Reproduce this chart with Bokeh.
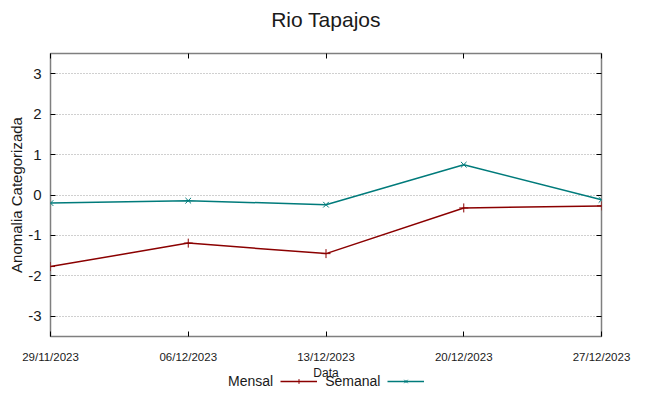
import pandas as pd
from bokeh.plotting import figure
from bokeh.layouts import column
from bokeh.models import (Range1d, LinearAxis, FixedTicker, Legend, LegendItem, Grid, Label)
from bokeh.embed import file_html
from bokeh.resources import INLINE

# ---- data ----
dates = ["29/11/2023", "06/12/2023", "13/12/2023", "20/12/2023", "27/12/2023"]
mensal = [-1.77, -1.19, -1.45, -0.32, -0.27]
semanal = [-0.20, -0.14, -0.24, 0.75, -0.12]
y_ticks = [-3, -2, -1, 0, 1, 2, 3]
y_tick_labels = ["-3", "-2", "-1", "0", "1", "2", "3"]
title_text = "Rio Tapajos"
x_label = "Data"
y_label = "Anomalia Categorizada"
series_names = ["Mensal", "Semanal"]

x_ms = [int(v) // 10**6 for v in pd.to_datetime(dates, format="%d/%m/%Y").astype("int64")]

RED = "#8b0000"
TEAL = "#007b7b"
SANS = "Liberation Sans"
TXT = "#1a1a1a"
W = 649

def strip(h):
    f = figure(width=W, height=h, output_backend="svg", toolbar_location=None,
               x_axis_location=None, y_axis_location=None,
               x_range=Range1d(0, 1), y_range=Range1d(0, h),
               min_border_left=50, min_border_right=48, min_border_top=0, min_border_bottom=0)
    f.outline_line_color = None
    f.xgrid.visible = False
    f.ygrid.visible = False
    return f

# ---- title strip ----
TH = 36
pt = strip(TH)
pt.add_layout(Label(x=0.5, y=TH - 19, text=title_text, text_align="center",
                    text_baseline="middle", text_font=SANS, text_font_size="21px",
                    text_color=TXT))

# ---- main plot ----
MH = 331
x0, x1 = x_ms[0], x_ms[-1]
p = figure(width=W, height=MH, output_backend="svg", toolbar_location=None,
           x_axis_location=None, y_axis_location=None,
           x_range=Range1d(x0, x1), y_range=Range1d(-3.5, 3.5),
           min_border_left=50, min_border_right=48, min_border_top=17, min_border_bottom=31)
p.background_fill_color = "white"
p.border_fill_color = "white"
p.outline_line_color = "#7f7f7f"
p.outline_line_width = 1.5

def tick_only(ax):
    # mirrored tick marks only: labels are not painted
    ax.axis_line_color = None
    ax.major_tick_in = 5
    ax.major_tick_out = 0
    ax.major_tick_line_color = "black"
    ax.minor_tick_line_color = None
    ax.major_label_text_color = None
    ax.major_label_text_font_size = "1px"
    ax.major_label_standoff = 0

yl = LinearAxis(ticker=FixedTicker(ticks=y_ticks),
                major_label_overrides={t: s for t, s in zip(y_ticks, y_tick_labels)})
yl.axis_line_color = None
yl.major_tick_in = 5
yl.major_tick_out = 0
yl.major_tick_line_color = "black"
yl.minor_tick_line_color = None
yl.major_label_text_font = SANS
yl.major_label_text_font_size = "15px"
yl.major_label_text_color = TXT
yl.major_label_standoff = 9
yl.axis_label = y_label
yl.axis_label_text_font = SANS
yl.axis_label_text_font_size = "15px"
yl.axis_label_text_font_style = "normal"
yl.axis_label_text_color = TXT
yl.axis_label_standoff = 0
p.add_layout(yl, "left")

yr = LinearAxis(ticker=FixedTicker(ticks=y_ticks))
tick_only(yr)
p.add_layout(yr, "right")

xt = LinearAxis(ticker=FixedTicker(ticks=x_ms))
tick_only(xt)
p.add_layout(xt, "above")

xb = LinearAxis(ticker=FixedTicker(ticks=x_ms),
                major_label_overrides={t: d for t, d in zip(x_ms, dates)})
xb.axis_line_color = None
xb.major_tick_in = 5
xb.major_tick_out = 0
xb.major_tick_line_color = "black"
xb.minor_tick_line_color = None
xb.major_label_text_font = SANS
xb.major_label_text_font_size = "11.5px"
xb.major_label_text_color = TXT
xb.major_label_standoff = 14
p.add_layout(xb, "below")

p.xgrid.visible = False
p.ygrid.visible = False
g = Grid(dimension=1, ticker=FixedTicker(ticks=y_ticks))
g.grid_line_color = "#a0a0a0"
g.grid_line_dash = "1 2"
g.grid_line_width = 1
p.add_layout(g)

p.line(x_ms, mensal, line_color=RED, line_width=1.5)
p.scatter(x_ms, mensal, marker="cross", size=9, line_color=RED, line_width=1)
p.line(x_ms, semanal, line_color=TEAL, line_width=1.5)
p.scatter(x_ms, semanal, marker="x", size=8, line_color=TEAL, line_width=1)

# ---- bottom strip: x-axis title and legend (text precedes its sample) ----
LH = 396 - TH - MH
pl = strip(LH)
pl.add_layout(Label(x=0.5, y=LH - 5, text=x_label, text_align="center",
                    text_baseline="middle", text_font=SANS, text_font_size="12px",
                    text_color=TXT))
off = dict(x=[-1], y=[-1])
blank = pl.line(line_alpha=0, **off)
lm = pl.line(line_color=RED, line_width=1.5, **off)
sm = pl.scatter(marker="cross", size=9, line_color=RED, line_width=1, **off)
ls = pl.line(line_color=TEAL, line_width=1.5, **off)
ss = pl.scatter(marker="x", size=8, line_color=TEAL, line_width=1, **off)

lg = Legend(items=[LegendItem(label=series_names[0], renderers=[blank]),
                   LegendItem(label=series_names[1], renderers=[lm, sm]),
                   LegendItem(label="", renderers=[ls, ss])],
            orientation="horizontal", location=(133, 7),
            label_text_font=SANS, label_text_font_size="14px", label_text_color=TXT,
            glyph_width=37, glyph_height=12, label_height=12, label_width=0,
            label_standoff=8, padding=0, margin=0, spacing=7,
            border_line_color=None, background_fill_alpha=0)
pl.add_layout(lg)

open("out.html", "w").write(file_html(column(pt, p, pl), INLINE))
